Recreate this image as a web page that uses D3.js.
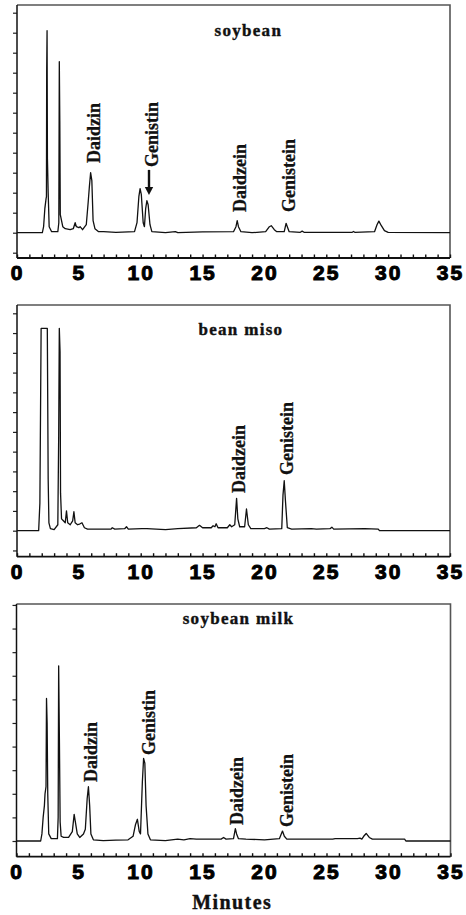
<!DOCTYPE html>
<html><head><meta charset="utf-8">
<script src="https://cdn.jsdelivr.net/npm/d3@7"></script>
<style>body{margin:0;background:#fff}</style>
</head><body><svg id="c" width="466" height="915"></svg>
<script>
// ---------- data ----------
const xTickLabels = [0, 5, 10, 15, 20, 25, 30, 35];
const xTitle = "Minutes";

const titles = ["soybean", "bean miso", "soybean milk"];

// soybean chromatogram (minutes, relative response)
const soyT = [0,2.05,2.15,2.25,2.35,2.38,2.40,2.43,2.46,2.52,2.6,2.8,3.3,3.38,3.42,3.46,3.5,3.6,3.7,3.9,4.3,4.55,4.7,4.8,5.0,5.1,5.3,5.6,5.75,5.85,5.95,6.05,6.15,6.3,6.6,7,8,9.5,9.7,9.85,9.95,10.05,10.2,10.3,10.4,10.5,10.6,10.75,10.9,12,12.8,13,15,17.5,17.7,17.8,17.9,18.1,19,20.1,20.4,20.55,20.8,21,21.6,21.75,21.85,22,22.9,23.05,23.2,27.1,27.2,27.3,28.9,29.1,29.25,29.45,29.7,30,35];
const soyV = [0,0,0.3,1.2,1.7,1.8,8.1,10.1,3.7,2.0,0.3,0.05,0.05,0.5,8.55,5.6,0.9,0.6,0.3,0.2,0.15,0.2,0.5,0.3,0.25,0.3,0.15,0.4,1.5,2.3,3.0,2.6,0.6,0.2,0.05,0.05,0.02,0.05,0.5,1.8,2.2,1.9,0.5,0.3,1.2,1.6,1.4,0.4,0.05,0,0.05,0,0.04,0.05,0.3,0.6,0.3,0.05,0,0.05,0.3,0.35,0.15,0.05,0.05,0.47,0.3,0.05,0.02,0.08,0.02,0.02,0.06,0.02,0.05,0.4,0.58,0.35,0.1,0.02,0];

// bean miso chromatogram
const misoT = [0,1.75,1.85,1.95,2.45,2.52,2.58,2.7,3.0,3.3,3.37,3.42,3.48,3.52,3.6,3.75,3.9,4.0,4.1,4.3,4.5,4.6,4.7,4.9,5.1,5.25,5.45,5.7,7.6,7.7,7.9,8.7,8.85,9.0,10.1,10.5,12,13,14.5,14.75,15.0,15.7,15.85,16.0,16.1,16.25,17.0,17.2,17.35,17.6,17.75,17.85,18.0,18.4,18.55,18.7,18.9,20,20.2,20.4,21.4,21.5,21.6,21.7,21.85,22.2,23.8,24.2,25.3,25.45,25.6,28.1,29.2,29.3,35];
const misoV = [0,0,1.4,10.24,10.24,2.6,0.4,0.1,0.05,0.3,4.8,10.24,9.05,1.9,0.6,0.5,0.4,1.0,0.4,0.3,0.5,0.96,0.4,0.3,0.35,0.4,0.15,0.08,0.08,0.15,0.08,0.1,0.2,0.08,0.1,0.1,0.05,0.1,0.15,0.27,0.15,0.15,0.25,0.2,0.35,0.15,0.15,0.3,0.2,0.3,1.64,0.6,0.2,0.2,1.1,0.3,0.1,0.1,0.15,0.08,0.1,1.8,2.53,1.5,0.15,0.08,0.1,0.08,0.1,0.18,0.08,0.1,0.08,0,0];

// soybean milk chromatogram
const milkT = [0,1.95,2.05,2.15,2.25,2.3,2.38,2.42,2.47,2.52,2.6,2.8,3.3,3.36,3.4,3.46,3.52,3.6,3.8,4.2,4.5,4.65,4.75,4.9,5.1,5.4,5.55,5.7,5.8,5.9,6.0,6.2,7,8,9,9.4,9.6,9.75,9.9,10.0,10.15,10.25,10.35,10.45,10.6,10.8,12,13,13.5,14,14.5,16.5,16.7,16.9,17.5,17.65,17.75,17.9,18.5,20,21.2,21.45,21.6,21.8,25.5,25.7,27.5,27.7,27.85,28.0,28.2,28.45,28.7,31.3,31.4,35];
const milkV = [0,0,0.3,1.0,1.5,2.0,2.3,6.04,5.0,2.0,0.3,0.1,0.1,1.0,7.42,4.3,0.8,0.2,0.15,0.15,0.4,1.13,0.8,0.3,0.15,0.3,0.5,1.8,2.3,1.5,0.3,0.05,0.02,0.04,0.05,0.2,0.7,0.92,0.4,0.3,2.5,3.5,3.3,1.5,0.3,0.05,0.02,0.08,0.05,0.1,0.08,0.08,0.15,0.08,0.1,0.52,0.3,0.1,0.08,0.05,0.1,0.42,0.2,0.08,0.08,0.1,0.1,0.12,0.08,0.2,0.32,0.15,0.08,0.08,0,0];

// peak labels: name, retention position (min), height where text starts
const soyLabels  = ["Daidzin", "Genistin", "Daidzein", "Genistein"];
const soyLabT    = [6.71, 11.4, 18.5, 22.5];
const soyLabV    = [3.49, 3.29, 1.04, 1.04];
const misoLabels = ["Daidzein", "Genistein"];
const misoLabT   = [18.43, 22.3];
const misoLabV   = [1.91, 2.82];
const milkLabels = ["Daidzin", "Genistin", "Daidzein", "Genistein"];
const milkLabT   = [6.5, 11.18, 18.3, 22.3];
const milkLabV   = [2.5, 3.64, 0.68, 0.59];

// title positions (min, response)
const titleT = [18.7, 18.1, 17.9];
const titleV = [9.85, 9.9, 9.2];

// arrow in soybean panel (min, from, to)
const arrowT = 10.67, arrowFrom = 3.14, arrowTo = 1.89;

// ---------- layout ----------
const panels = [
  {t: soyT,  v: soyV,  labels: soyLabels,  labT: soyLabT,  labV: soyLabV,
   left: 17, right: 450, top: 5, bottom: 258, yDomain: [-1.265, 11.385]},
  {t: misoT, v: misoV, labels: misoLabels, labT: misoLabT, labV: misoLabV,
   left: 17, right: 450, top: 305, bottom: 556.7, yDomain: [-1.316, 11.42]},
  {t: milkT, v: milkV, labels: milkLabels, labT: milkLabT, labV: milkLabV,
   left: 16.5, right: 450.5, top: 604, bottom: 856.7, yDomain: [-0.665, 10.04]}
];

const svg = d3.select("#c");
svg.append("rect").attr("width", 466).attr("height", 915).attr("fill", "#fff");

panels.forEach((p, i) => {
  const x = d3.scaleLinear().domain([0, 35]).range([p.left, p.right]);
  const y = d3.scaleLinear().domain(p.yDomain).range([p.bottom, p.top]);
  const g = svg.append("g");

  // frame top & right
  g.append("path")
    .attr("d", `M${p.left},${p.top}H${p.right}V${p.bottom}`)
    .attr("fill", "none").attr("stroke", "#555").attr("stroke-width", 1.6);

  // y axis: major + minor ticks outward
  const yMajor = d3.range(Math.ceil(p.yDomain[0]), Math.floor(p.yDomain[1]) + 1);
  const yMinor = d3.range(Math.ceil(p.yDomain[0] * 5), Math.floor(p.yDomain[1] * 5) + 1).map(d => d / 5);
  const ya = g.append("g").attr("transform", `translate(${p.left},0)`)
    .call(d3.axisLeft(y).tickValues(yMinor).tickSize(2).tickFormat(""));
  ya.call(d3.axisLeft(y).tickValues(yMajor).tickSize(4).tickFormat(""));
  g.selectAll(".domain").remove();
  g.append("line").attr("x1", p.left).attr("x2", p.left).attr("y1", p.top).attr("y2", p.bottom)
    .attr("stroke", "#111").attr("stroke-width", 1.5);
  g.selectAll(".tick line").attr("stroke", "#222").attr("stroke-width", 1.2);

  // x axis
  const xa = g.append("g").attr("transform", `translate(0,${p.bottom})`)
    .call(d3.axisBottom(x).tickValues(d3.range(0, 36)).tickSize(-3.5).tickFormat(""));
  xa.select(".domain").remove();
  xa.selectAll("line").attr("stroke", "#111").attr("stroke-width", 1.4);
  g.append("line").attr("x1", p.left).attr("x2", p.right).attr("y1", p.bottom).attr("y2", p.bottom)
    .attr("stroke", "#111").attr("stroke-width", 1.8);
  const xl = g.append("g").attr("transform", `translate(0,${p.bottom})`)
    .call(d3.axisBottom(x).tickValues(xTickLabels).tickSize(0).tickPadding(7).tickFormat(d3.format("d")));
  xl.select(".domain").remove();
  xl.selectAll("text")
    .attr("font-family", "'Liberation Sans', Arial, sans-serif")
    .attr("font-weight", "bold").attr("font-size", 21)
    .attr("letter-spacing", 2)
    .attr("fill", "#000").attr("stroke", "#000").attr("stroke-width", 1);

  // chromatogram line
  const pts = p.t.map((t, k) => [t, p.v[k]]);
  g.append("path").datum(pts)
    .attr("d", d3.line().x(d => x(d[0])).y(d => y(d[1])))
    .attr("fill", "none").attr("stroke", "#111").attr("stroke-width", 1.3)
    .attr("stroke-linejoin", "round");

  // title
  g.append("text")
    .attr("x", x(titleT[i])).attr("y", y(titleV[i]))
    .attr("text-anchor", "middle")
    .attr("font-family", "'Liberation Serif', 'Times New Roman', serif")
    .attr("font-weight", "bold").attr("font-size", 17).attr("letter-spacing", 1.3)
    .attr("fill", "#111").attr("stroke", "#111").attr("stroke-width", 0.4)
    .text(titles[i]);

  // peak labels (rotated)
  p.labels.forEach((name, k) => {
    g.append("text")
      .attr("transform", `translate(${x(p.labT[k])},${y(p.labV[k])}) rotate(-90)`)
      .attr("font-family", "'Liberation Serif', 'Times New Roman', serif")
      .attr("font-weight", "bold").attr("font-size", 18)
      .attr("fill", "#111").attr("stroke", "#111").attr("stroke-width", 0.3)
      .text(name);
  });

  if (i === 0) {
    const ax = x(arrowT), y0 = y(arrowFrom), y1 = y(arrowTo);
    g.append("line").attr("x1", ax).attr("x2", ax).attr("y1", y0).attr("y2", y1 - 7)
      .attr("stroke", "#111").attr("stroke-width", 2.4);
    g.append("path")
      .attr("d", `M${ax - 4.2},${y1 - 8}L${ax + 4.2},${y1 - 8}L${ax},${y1}Z`)
      .attr("fill", "#111");
  }

  if (i === 2) {
    g.append("text")
      .attr("x", x(17.4)).attr("y", p.bottom + 52)
      .attr("text-anchor", "middle")
      .attr("font-family", "'Liberation Serif', 'Times New Roman', serif")
      .attr("font-weight", "bold").attr("font-size", 20).attr("letter-spacing", 1.4)
      .attr("fill", "#111").attr("stroke", "#111").attr("stroke-width", 0.4)
      .text(xTitle);
  }
});
</script>
</body></html>
